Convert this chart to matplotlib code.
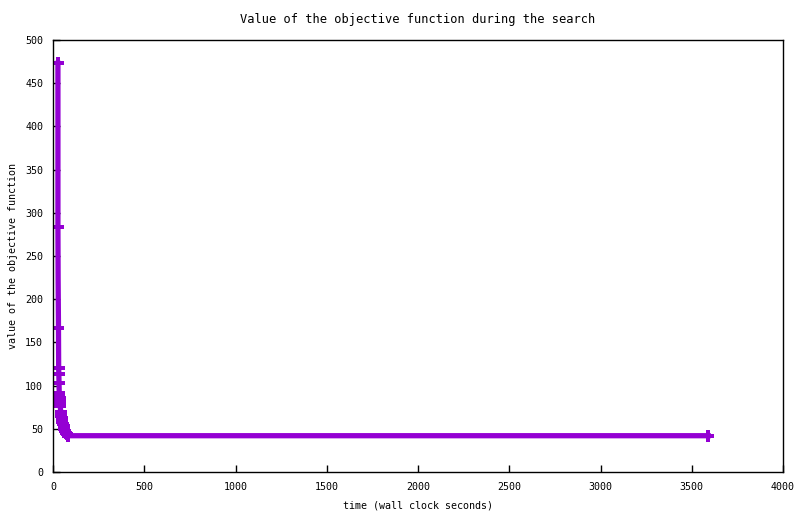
import matplotlib
matplotlib.use("Agg")
import matplotlib.pyplot as plt

# wall clock seconds vs objective value
times = [27, 27, 28, 30, 31, 32, 33, 34, 35, 36, 37, 38, 40, 42, 44, 47, 50,
         54, 58, 62, 66, 70, 75, 82, 3590]
values = [473, 283, 225, 167, 120, 113, 103, 92, 88, 86, 84, 80, 76, 70, 65, 62,
          58, 55, 53, 50, 48, 45, 44, 42, 42]

x_ticks = [0, 500, 1000, 1500, 2000, 2500, 3000, 3500, 4000]
y_ticks = [0, 50, 100, 150, 200, 250, 300, 350, 400, 450, 500]

plt.rcParams["font.family"] = ["DejaVu Sans Mono"]
plt.rcParams["font.size"] = 7.2

fig = plt.figure(figsize=(8.0, 5.14), dpi=100)
ax = fig.add_axes([53 / 800, 42 / 514, 730 / 800, 432 / 514])

# the 225 reading is a bend in the line with no marker drawn
marked = [i for i in range(len(times)) if i != 2]
ax.plot(times, values, color="#9400D3", lw=3.8, marker="P", ms=9,
        markeredgewidth=0, markevery=marked, solid_joinstyle="miter")

ax.set_xlim(0, 4000)
ax.set_ylim(0, 500)
ax.set_xticks(x_ticks)
ax.set_yticks(y_ticks)
ax.tick_params(direction="in", length=5, width=1, pad=7)
for sp in ax.spines.values():
    sp.set_linewidth(1)

ax.set_title("Value of the objective function during the search", pad=12)
ax.set_xlabel("time (wall clock seconds)", labelpad=6)
ax.set_ylabel("value of the objective function", labelpad=5)

fig.savefig("out.png", dpi=100)
